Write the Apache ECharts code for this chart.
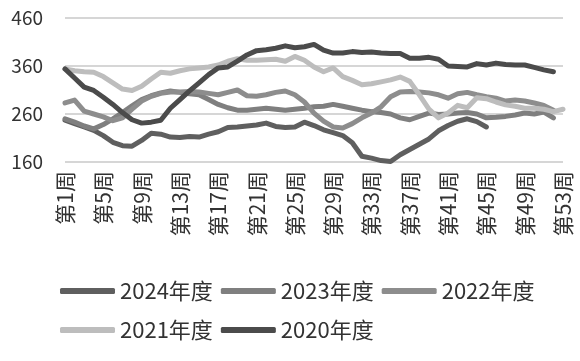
<!DOCTYPE html>
<html><head><meta charset="utf-8">
<script src="https://cdn.jsdelivr.net/npm/echarts@6/dist/echarts.min.js"></script>
<style>html,body{margin:0;padding:0;background:#fff}#c{width:580px;height:361px}</style>
</head><body><div id="c"></div>
<script>
const weeks = Array.from({length: 53}, (_, i) => '第' + (i + 1) + '周');
const yTicks = [160, 260, 360, 460];
const s2024 = [247,240,233,226,215,201,194,193,205,220,218,212,211,213,212,218,223,232,233,235,237,241,234,232,233,243,236,227,221,215,200,172,168,163,161,175,186,197,208,225,236,245,250,244,233];
const s2023 = [250,243,235,229,238,250,263,277,290,298,304,308,305,302,300,290,280,273,268,268,270,272,270,268,270,272,275,276,280,276,272,268,265,263,260,252,248,255,262,259,260,262,263,260,252,253,255,258,262,260,264,252];
const s2022 = [283,289,266,260,254,246,252,270,287,297,303,306,306,307,306,303,300,305,310,298,297,300,305,308,300,285,262,245,233,231,240,252,262,275,296,306,307,306,304,300,293,302,305,300,296,293,287,289,287,283,278,268];
const s2021 = [354,350,348,347,338,325,312,309,318,333,347,345,350,354,356,358,362,370,375,372,372,373,374,370,380,372,358,348,356,338,330,321,323,327,331,337,328,300,270,252,262,278,273,294,292,285,279,276,272,272,270,265,270];
const s2020 = [354,335,316,309,295,280,263,248,241,243,247,272,290,308,325,342,356,358,370,383,392,394,397,402,398,400,405,393,387,387,390,388,389,387,386,386,376,376,378,374,360,359,358,365,362,366,363,362,362,357,352,348];
const names = ['2024年度','2023年度','2022年度','2021年度','2020年度'];
const colors = ['#5f5f5f','#7f7f7f','#8d8d8d','#bdbdbd','#4b4b4b'];
const dataSets = [s2024, s2023, s2022, s2021, s2020];
const font = "'Noto Sans CJK SC', 'Noto Sans', sans-serif";
const chart = echarts.init(document.getElementById('c'));
const legendCommon = {
  left: 55, itemWidth: 55, itemHeight: 6, itemGap: 8, icon: 'roundRect',
  textStyle: {fontFamily: font, fontSize: 22, color: '#333'}
};
chart.setOption({
  animation: false,
  grid: {left: 65, right: 17, top: 18, bottom: 199, containLabel: false},
  legend: [
    Object.assign({top: 275, data: names.slice(0, 3)}, legendCommon),
    Object.assign({top: 314, data: names.slice(3)}, legendCommon)
  ],
  xAxis: {
    type: 'category', data: weeks, boundaryGap: false,
    axisLine: {show: false}, axisTick: {show: false},
    axisLabel: {interval: 3, rotate: 90, fontFamily: font, fontSize: 21, color: '#333', margin: 9}
  },
  yAxis: {
    type: 'value', min: 160, max: 460, interval: 100,
    axisLine: {show: false}, axisTick: {show: false},
    axisLabel: {fontFamily: font, fontSize: 19, color: '#333', margin: 22},
    splitLine: {lineStyle: {color: '#c8c8c8', width: 1.5}}
  },
  series: dataSets.map((d, i) => ({
    name: names[i], type: 'line', data: d, showSymbol: false, symbol: 'none',
    lineStyle: {width: 5, color: colors[i], cap: 'round', join: 'round'},
    itemStyle: {color: colors[i]}, z: 2 + i
  }))
});
</script></body></html>
